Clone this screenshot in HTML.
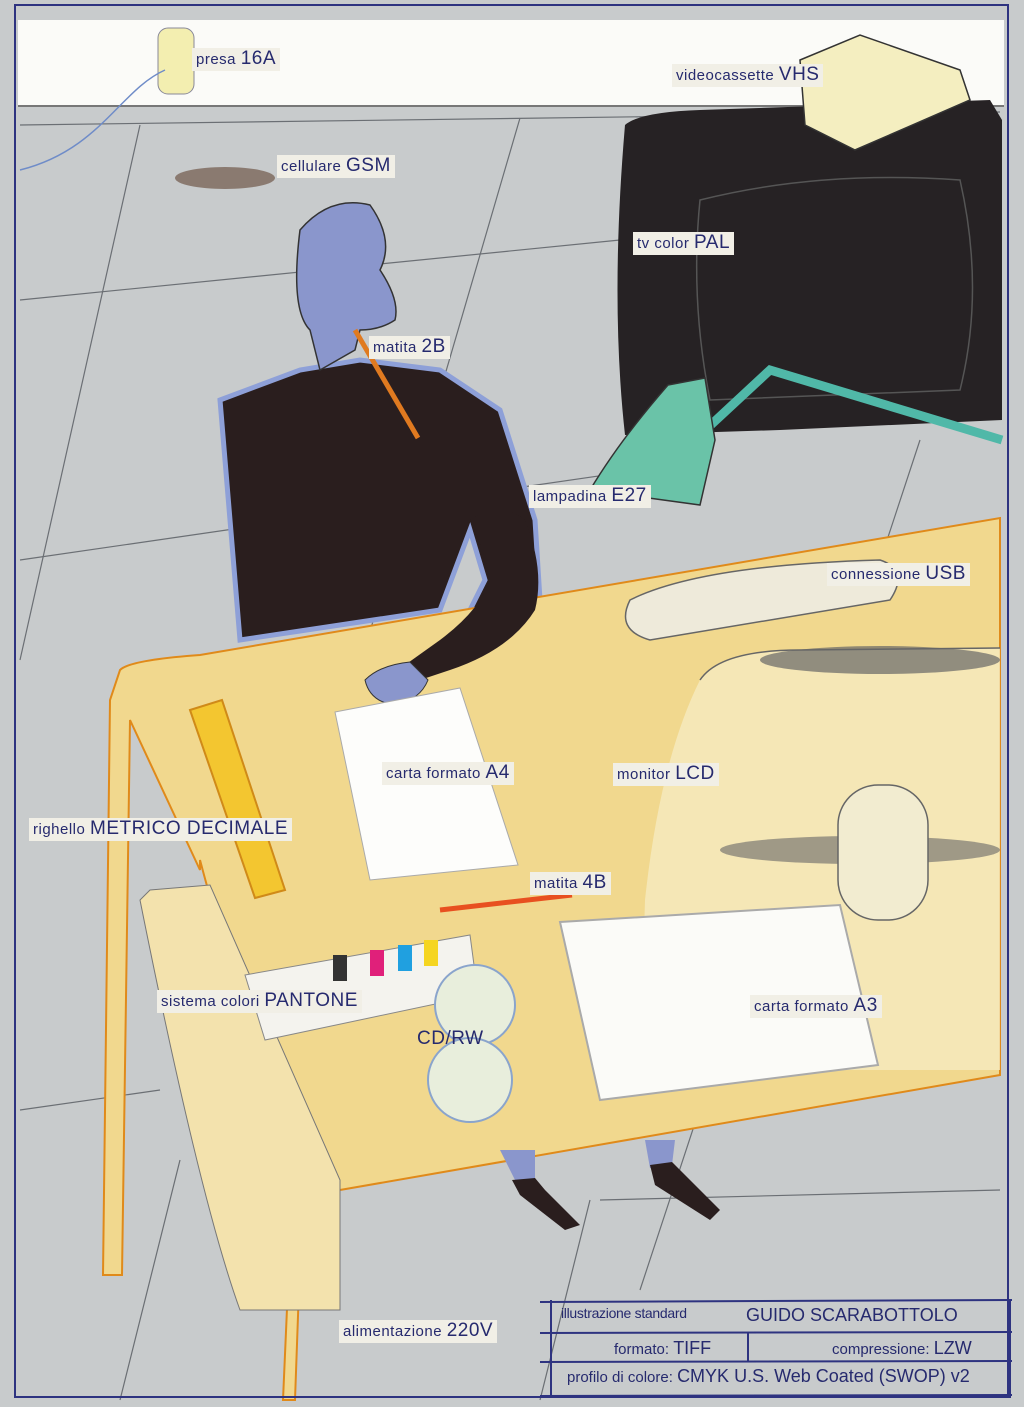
<!DOCTYPE html>
<html><head><meta charset="utf-8"><style>
body{margin:0;width:1024px;height:1407px;overflow:hidden;background:#c8cbcc;font-family:"Liberation Sans","DejaVu Sans",sans-serif;}
.l{position:absolute;background:#f1efe6;color:#262a6e;font-size:15px;padding:1px 4px;white-space:nowrap;letter-spacing:0.5px;line-height:20px}
.l b{font-weight:normal;font-size:19px}
svg{position:absolute;left:0;top:0}
.tb{position:absolute;color:#262a6e;font-size:15px;white-space:nowrap}
</style></head><body>
<svg width="1024" height="1407" viewBox="0 0 1024 1407">
<rect x="0" y="0" width="1024" height="1407" fill="#c8cbcc"/>
<g stroke="#6b6f74" stroke-width="1.2" fill="none">
<line x1="20" y1="125" x2="1000" y2="112"/>
<line x1="20" y1="300" x2="620" y2="240"/>
<line x1="20" y1="560" x2="640" y2="470"/>
<line x1="20" y1="1110" x2="160" y2="1090"/>
<line x1="140" y1="125" x2="20" y2="660"/>
<line x1="520" y1="118" x2="350" y2="700"/>
<line x1="920" y1="440" x2="640" y2="1290"/>
<line x1="180" y1="1160" x2="120" y2="1400"/>
<line x1="590" y1="1200" x2="540" y2="1400"/>
<line x1="1000" y1="1190" x2="600" y2="1200"/>
</g>
<rect x="18" y="20" width="986" height="86" fill="#fbfbf8"/>
<line x1="18" y1="106" x2="1004" y2="106" stroke="#777" stroke-width="2"/>
<rect x="158" y="28" width="36" height="66" rx="10" fill="#f3eeb0" stroke="#889" />
<path d="M165 70 C120 90 100 150 20 170" stroke="#6f8cc8" fill="none" stroke-width="1.5"/>
<ellipse cx="225" cy="178" rx="50" ry="11" fill="#8a7a70"/>
<path d="M625 125 Q640 112 700 110 L990 100 L1002 120 L1002 420 L780 430 L625 435 Q610 300 625 125Z" fill="#262224"/>
<path d="M700 200 Q820 170 960 180 Q985 290 960 390 L710 400 Q690 300 700 200Z" fill="none" stroke="#555" stroke-width="1.5"/>
<path d="M800 60 L860 35 L960 70 L970 100 L855 150 L805 125Z" fill="#f4eec0" stroke="#333" stroke-width="1.5"/>
<path d="M700 435 L770 370 L1002 440" stroke="#50b8a8" stroke-width="9" fill="none"/>
<path d="M668 385 L705 378 L715 440 L700 505 L590 490 Q620 440 668 385Z" fill="#6ac3a8" stroke="#333" stroke-width="1.5"/>
<path d="M220 400 L300 370 L360 360 L440 370 L500 410 L535 520 L540 600 L520 640 L460 670 L420 695 L380 700 L365 680 L400 665 L460 630 L485 580 L470 530 L440 610 L240 640 Z" fill="#2a1e1e" stroke="#8ea0d8" stroke-width="5"/>
<path d="M300 230 Q330 195 370 205 Q395 240 380 270 Q400 300 395 320 Q380 330 360 330 L355 350 L320 370 L310 330 Q290 310 300 230Z" fill="#8a96cc" stroke="#333" stroke-width="1.5"/>
<line x1="355" y1="330" x2="418" y2="438" stroke="#e07a20" stroke-width="5"/>
<path d="M120 670 Q130 660 200 655 L1000 518 L1000 1075 L340 1190 Q305 1200 300 1260 L295 1400 L283 1400 L290 1240 Q300 1185 320 1180 Q250 1050 200 860 L200 870 L130 720 L122 1275 L103 1275 L110 700 Z" fill="#f1d88e" stroke="#e08a1a" stroke-width="2"/>
<!-- arm over table -->
<path d="M470 520 Q500 500 525 520 Q545 570 535 610 Q510 650 450 670 L420 680 L405 665 L440 640 Q480 610 490 580 Q485 550 470 520Z" fill="#2a1e1e"/>
<path d="M365 680 Q380 665 410 662 L428 680 Q420 700 395 705 Q370 702 365 680Z" fill="#8a96cc" stroke="#333" stroke-width="1"/>
<path d="M150 890 L210 885 L340 1180 L340 1310 L240 1310 Q200 1200 140 900Z" fill="#f3e2ad" stroke="#777" stroke-width="1"/>
<path d="M700 680 Q720 650 800 650 L1000 648 L1000 1070 L640 1070 L645 900 Q660 760 700 680Z" fill="#f6ebc0" opacity="0.8"/>
<path d="M700 680 Q720 650 800 650 L1000 648" fill="none" stroke="#666" stroke-width="1.5"/>
<path d="M630 600 Q700 565 880 560 Q910 570 890 600 L650 640 Q615 630 630 600Z" fill="#eeeada" stroke="#666" stroke-width="1.5"/>
<ellipse cx="880" cy="660" rx="120" ry="14" fill="#666" opacity="0.7"/>
<ellipse cx="860" cy="850" rx="140" ry="14" fill="#666" opacity="0.6"/>
<rect x="838" y="785" width="90" height="135" rx="40" fill="#f2ecd0" stroke="#666" stroke-width="1.5"/>
<path d="M190 710 L222 700 L285 890 L255 898Z" fill="#f3c630" stroke="#d08a18" stroke-width="2"/>
<path d="M335 712 L460 688 L518 865 L370 880Z" fill="#fdfdfb" stroke="#aaa"/>
<line x1="440" y1="910" x2="572" y2="895" stroke="#e85020" stroke-width="5"/>
<path d="M560 922 L840 905 L878 1065 L600 1100Z" fill="#fbfbf8" stroke="#aaa" stroke-width="2"/>
<path d="M245 975 L470 935 L478 995 L265 1040Z" fill="#f4f3ee" stroke="#888"/>
<rect x="333" y="955" width="14" height="26" fill="#333"/>
<rect x="370" y="950" width="14" height="26" fill="#e0207a"/>
<rect x="398" y="945" width="14" height="26" fill="#20a0e0"/>
<rect x="424" y="940" width="14" height="26" fill="#f5d520"/>
<circle cx="475" cy="1005" r="40" fill="#e8eedc" stroke="#8aa4cc" stroke-width="2"/>
<circle cx="470" cy="1080" r="42" fill="#e8eedc" stroke="#8aa4cc" stroke-width="2"/>
<path d="M500 1150 L535 1150 L535 1180 L515 1180Z" fill="#8a96cc"/>
<path d="M645 1140 L675 1140 L672 1165 L650 1168Z" fill="#8a96cc"/>
<path d="M512 1180 L535 1178 L545 1190 L580 1225 L565 1230 L520 1195Z" fill="#2a1e1e"/>
<path d="M650 1165 L672 1162 L720 1210 L710 1220 L655 1185Z" fill="#2a1e1e"/>
<rect x="15" y="5" width="993" height="1392" fill="none" stroke="#2e3380" stroke-width="2"/>
<g stroke="#2e3380" stroke-width="2" fill="none">
<line x1="540" y1="1302" x2="1012" y2="1300"/>
<line x1="540" y1="1333" x2="1012" y2="1332"/>
<line x1="540" y1="1362" x2="1012" y2="1361"/>
<line x1="540" y1="1396" x2="1012" y2="1395"/>
<line x1="551" y1="1300" x2="551" y2="1398"/>
<line x1="748" y1="1333" x2="748" y2="1362"/>
<line x1="1010" y1="1300" x2="1010" y2="1398"/>
</g>
</svg>
<div class="l" style="left:192px;top:48px">presa <b>16A</b></div>
<div class="l" style="left:672px;top:64px">videocassette <b>VHS</b></div>
<div class="l" style="left:277px;top:155px">cellulare <b>GSM</b></div>
<div class="l" style="left:633px;top:232px">tv color <b>PAL</b></div>
<div class="l" style="left:369px;top:336px">matita <b>2B</b></div>
<div class="l" style="left:529px;top:485px">lampadina <b>E27</b></div>
<div class="l" style="left:827px;top:563px">connessione <b>USB</b></div>
<div class="l" style="left:382px;top:762px">carta formato <b>A4</b></div>
<div class="l" style="left:613px;top:763px">monitor <b>LCD</b></div>
<div class="l" style="left:29px;top:818px">righello <b>METRICO DECIMALE</b></div>
<div class="l" style="left:530px;top:872px">matita <b>4B</b></div>
<div class="l" style="left:157px;top:990px">sistema colori <b>PANTONE</b></div>
<div class="l" style="left:750px;top:995px">carta formato <b>A3</b></div>
<div class="l" style="left:413px;top:1028px;background:none"><b>CD/RW</b></div>
<div class="l" style="left:339px;top:1320px">alimentazione <b>220V</b></div>
<div class="tb" style="left:561px;top:1305px;font-size:14px;letter-spacing:-0.3px">illustrazione standard</div>
<div class="tb" style="left:746px;top:1305px;font-size:18px">GUIDO SCARABOTTOLO</div>
<div class="tb" style="left:614px;top:1338px">formato: <span style="font-size:18px">TIFF</span></div>
<div class="tb" style="left:832px;top:1338px">compressione: <span style="font-size:18px">LZW</span></div>
<div class="tb" style="left:567px;top:1366px">profilo di colore: <span style="font-size:18px">CMYK U.S. Web Coated (SWOP) v2</span></div>
</body></html>
